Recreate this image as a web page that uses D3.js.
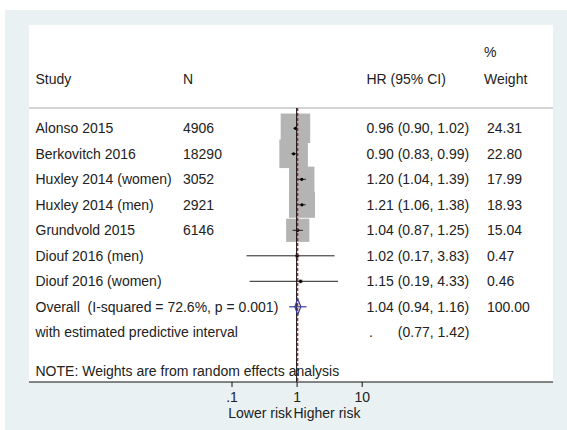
<!DOCTYPE html>
<html>
<head>
<meta charset="utf-8">
<script src="https://cdn.jsdelivr.net/npm/d3@7"></script>
<style>
  body { margin: 0; background: #fff; }
  svg text { font-family: "Liberation Sans", Arial, sans-serif; font-size: 14px; fill: #222; white-space: pre; }
</style>
</head>
<body>
<svg id="chart" width="567" height="430"></svg>
<script>
// study rows
const studies = ["Alonso 2015", "Berkovitch 2016", "Huxley 2014 (women)", "Huxley 2014 (men)",
                 "Grundvold 2015", "Diouf 2016 (men)", "Diouf 2016 (women)"];
const sampleN = ["4906", "18290", "3052", "2921", "6146", "", ""];
const hr      = [0.96, 0.90, 1.20, 1.21, 1.04, 1.02, 1.15];
const lower   = [0.90, 0.83, 1.04, 1.06, 0.87, 0.17, 0.19];
const upper   = [1.02, 0.99, 1.39, 1.38, 1.25, 3.83, 4.33];
const weights = [24.31, 22.80, 17.99, 18.93, 15.04, 0.47, 0.46];

// pooled estimate
const overall = { hr: 1.04, lo: 0.94, hi: 1.16, predLo: 0.77, predHi: 1.42, weight: "100.00" };

const tickValues = [0.1, 1, 10];
const tickLabels = [".1", "1", "10"];

const svg = d3.select("#chart");
const fmt = d3.format(".2f");

// background panels
svg.append("rect").attr("x", 5).attr("y", 10).attr("width", 562).attr("height", 420).attr("fill", "#e9f1f3");
svg.append("rect").attr("x", 29).attr("y", 25).attr("width", 524).attr("height", 357).attr("fill", "#fff");

const x = d3.scaleLog().domain([0.1, 10]).range([231.5, 361.7]);
const rowKeys = studies.concat(["overall", "pred"]);
const y = d3.scalePoint().domain(rowKeys).range([128.3, 332.3]);
const side = d3.scaleSqrt().domain([0, 24.31]).range([0, 29.5]);

const colStudy = 35.5, colN = 183, colHR = 366.5, colW = 487;
const axisY = 382, topY = 108;

// header
svg.append("text").attr("x", colStudy).attr("y", 79).attr("dy", "0.35em").text("Study");
svg.append("text").attr("x", colN).attr("y", 79).attr("dy", "0.35em").text("N");
svg.append("text").attr("x", colHR).attr("y", 79).attr("dy", "0.35em").text("HR (95% CI)");
svg.append("text").attr("x", 484).attr("y", 52).attr("dy", "0.35em").text("%");
svg.append("text").attr("x", 484).attr("y", 79).attr("dy", "0.35em").text("Weight");
svg.append("line").attr("x1", 29).attr("x2", 553).attr("y1", topY).attr("y2", topY)
  .attr("stroke", "#c6c6c6").attr("stroke-width", 1.5);

// weight boxes
const g = svg.append("g");
g.selectAll("rect.box").data(studies).join("rect")
  .attr("class", "box")
  .attr("x", (d, i) => x(hr[i]) - side(weights[i]) / 2)
  .attr("y", (d, i) => y(d) - side(weights[i]) / 2)
  .attr("width", (d, i) => side(weights[i]))
  .attr("height", (d, i) => side(weights[i]))
  .attr("fill", "#b4b4b4");

// null line and overall line
svg.append("line").attr("x1", x(1)).attr("x2", x(1)).attr("y1", topY).attr("y2", axisY)
  .attr("stroke", "#111").attr("stroke-width", 1);
svg.append("line").attr("x1", x(overall.hr)).attr("x2", x(overall.hr)).attr("y1", topY).attr("y2", axisY)
  .attr("stroke", "#a01818").attr("stroke-width", 1.2).attr("stroke-dasharray", "3,2");

// CI lines + points
g.selectAll("line.ci").data(studies).join("line")
  .attr("class", "ci")
  .attr("x1", (d, i) => x(lower[i])).attr("x2", (d, i) => x(upper[i]))
  .attr("y1", d => y(d)).attr("y2", d => y(d))
  .attr("stroke", "#222").attr("stroke-width", 1);
g.selectAll("circle.pt").data(studies).join("circle")
  .attr("class", "pt")
  .attr("cx", (d, i) => x(hr[i])).attr("cy", d => y(d)).attr("r", 1.6)
  .attr("fill", "#000");

// overall diamond with predictive interval
const oy = y("overall");
svg.append("line").attr("x1", x(overall.predLo)).attr("x2", x(overall.predHi))
  .attr("y1", oy).attr("y2", oy).attr("stroke", "#3c3ca0").attr("stroke-width", 1.2);
svg.append("path")
  .attr("d", d3.line()([[x(overall.lo), oy], [x(overall.hr), oy - 8], [x(overall.hi), oy], [x(overall.hr), oy + 8]]) + "Z")
  .attr("fill", "none").attr("stroke", "#3c3ca0").attr("stroke-width", 1.2);

// text columns
const t = svg.append("g");
t.selectAll("text.name").data(studies).join("text").attr("class", "name")
  .attr("x", colStudy).attr("y", d => y(d)).attr("dy", "0.35em").text(d => d);
t.selectAll("text.n").data(studies).join("text").attr("class", "n")
  .attr("x", colN).attr("y", d => y(d)).attr("dy", "0.35em").text((d, i) => sampleN[i]);
t.selectAll("text.hr").data(studies).join("text").attr("class", "hr")
  .attr("x", colHR).attr("y", d => y(d)).attr("dy", "0.35em")
  .text((d, i) => `${fmt(hr[i])} (${fmt(lower[i])}, ${fmt(upper[i])})`);
t.selectAll("text.w").data(studies).join("text").attr("class", "w")
  .attr("x", colW).attr("y", d => y(d)).attr("dy", "0.35em").text((d, i) => fmt(weights[i]));

t.append("text").attr("x", colStudy).attr("y", oy).attr("dy", "0.35em")
  .text("Overall  (I-squared = 72.6%, p = 0.001)");
t.append("text").attr("x", colHR).attr("y", oy).attr("dy", "0.35em")
  .text(`${fmt(overall.hr)} (${fmt(overall.lo)}, ${fmt(overall.hi)})`);
t.append("text").attr("x", colW).attr("y", oy).attr("dy", "0.35em").text(overall.weight);

const py = y("pred");
t.append("text").attr("x", colStudy).attr("y", py).attr("dy", "0.35em").text("with estimated predictive interval");
t.append("text").attr("x", 369).attr("y", py).attr("dy", "0.35em").text(".");
t.append("text").attr("x", 397.8).attr("y", py).attr("dy", "0.35em")
  .text(`(${fmt(overall.predLo)}, ${fmt(overall.predHi)})`);

t.append("text").attr("x", colStudy).attr("y", 371).attr("dy", "0.35em")
  .text("NOTE: Weights are from random effects analysis");

// axis
svg.append("line").attr("x1", 29).attr("x2", 553).attr("y1", axisY).attr("y2", axisY)
  .attr("stroke", "#111").attr("stroke-width", 1.2);
const axis = d3.axisBottom(x).tickValues(tickValues).tickSize(5).tickPadding(5)
  .tickFormat((d, i) => tickLabels[i]);
const ax = svg.append("g").attr("transform", `translate(0,${axisY})`).call(axis);
ax.select(".domain").remove();
ax.selectAll(".tick line").attr("stroke", "#111");
ax.selectAll(".tick text").style("font-size", "14px").attr("fill", "#222")
  .style("font-family", "'Liberation Sans', Arial, sans-serif");

svg.append("text").attr("x", 292).attr("y", 413).attr("dy", "0.35em").attr("text-anchor", "end").text("Lower risk");
svg.append("text").attr("x", 293.5).attr("y", 413).attr("dy", "0.35em").text("Higher risk");
</script>
</body>
</html>
